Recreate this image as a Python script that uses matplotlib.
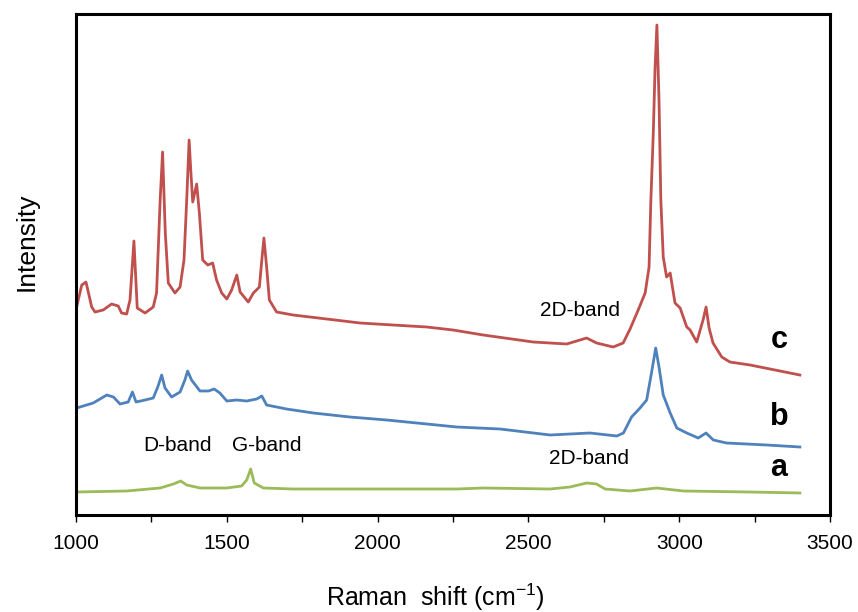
import matplotlib
matplotlib.use("Agg")
import matplotlib.pyplot as plt

plt.rcParams['font.family'] = ['Liberation Sans', 'DejaVu Sans']
plt.rcParams['mathtext.fontset'] = 'custom'
plt.rcParams['mathtext.rm'] = 'Liberation Sans'
plt.rcParams['mathtext.it'] = 'Liberation Sans'

# spectrum c (red) - raman shift / intensity (a.u.)
c_shift = [1002, 1019, 1033, 1052, 1063, 1090, 1118, 1140, 1151, 1168, 1179, 1192, 1203,
           1229, 1256, 1267, 1279, 1287, 1296, 1306, 1328, 1345, 1358, 1367, 1375, 1381,
           1387, 1400, 1409, 1420, 1437, 1453, 1466, 1483, 1500, 1516, 1533, 1544, 1571,
           1588, 1608, 1616, 1623, 1632, 1641, 1665, 1720, 1831, 1942, 2051, 2163, 2250,
           2350, 2516, 2627, 2693, 2726, 2781, 2814, 2837, 2864, 2887, 2900, 2906, 2914,
           2920, 2926, 2933, 2939, 2947, 2958, 2970, 2986, 3003, 3025, 3036, 3058, 3079,
           3089, 3099, 3112, 3141, 3168, 3235, 3301, 3400]
c_int = [208, 230, 233, 208, 203, 205, 211, 209, 202, 201, 215, 274, 207,
         202, 208, 222, 315, 363, 282, 232, 222, 228, 255, 315, 375, 342,
         313, 331, 302, 255, 250, 252, 235, 222, 216, 225, 240, 223, 213,
         222, 228, 255, 277, 248, 215, 203, 200, 196, 192, 190, 188, 185,
         180, 173, 171, 177, 172, 168, 172, 186, 205, 222, 248, 315, 382,
         448, 490, 415, 315, 258, 238, 242, 212, 207, 188, 185, 173, 195,
         208, 187, 172, 158, 153, 150, 146, 140]

# spectrum b (blue)
b_shift = [1002, 1057, 1102, 1124, 1146, 1173, 1187, 1199, 1229, 1256, 1271, 1284, 1295,
           1317, 1345, 1361, 1370, 1383, 1411, 1439, 1458, 1477, 1500, 1533, 1566, 1599,
           1616, 1632, 1698, 1787, 1908, 2030, 2163, 2262, 2406, 2572, 2704, 2793, 2815,
           2842, 2870, 2892, 2908, 2922, 2933, 2947, 2970, 2992, 3025, 3063, 3089, 3113,
           3157, 3290, 3400]
b_int = [107, 112, 120, 118, 111, 113, 123, 113, 115, 117, 128, 140, 127,
         118, 123, 135, 144, 135, 124, 124, 126, 122, 114, 115, 114, 116,
         119, 110, 106, 102, 98, 95, 91, 88, 86, 80, 82, 79, 82,
         98, 107, 115, 142, 167, 148, 120, 102, 87, 82, 77, 82, 75,
         72, 70, 68]

# spectrum a (green)
a_shift = [1002, 1168, 1279, 1323, 1347, 1367, 1411, 1500, 1549, 1566, 1579, 1591, 1621,
           1720, 1942, 2262, 2350, 2572, 2638, 2693, 2726, 2754, 2837, 2925, 3014, 3235, 3400]
a_int = [23, 24, 27, 31, 34, 30, 27, 27, 29, 35, 46, 32, 27,
         26, 26, 26, 27, 26, 28, 32, 31, 26, 24, 27, 24, 23, 22]

fig = plt.figure(figsize=(8.58, 6.12), dpi=100)
ax = fig.add_axes([0.0886, 0.1585, 0.8788, 0.8186])

ax.plot(a_shift, a_int, color='#9BBB59', lw=2)
ax.plot(b_shift, b_int, color='#4F81BD', lw=2)
ax.plot(c_shift, c_int, color='#C0504D', lw=2)

ax.set_xlim(1000, 3500)
ax.set_ylim(0, 501)
ax.set_yticks([])
ax.set_xticks(range(1000, 3501, 250))
ax.set_xticklabels([str(v) if v % 500 == 0 else '' for v in range(1000, 3501, 250)])
ax.tick_params(axis='x', direction='out', length=5, width=1, pad=9, labelsize=15)
for s in ax.spines.values():
    s.set_linewidth(2.2)

# band labels
ax.text(1335, 70, 'D-band', ha='center', va='center', fontsize=15)
ax.text(1634, 70, 'G-band', ha='center', va='center', fontsize=15)
ax.text(2701, 56, '2D-band', ha='center', va='center', fontsize=15)
ax.text(2671, 205, '2D-band', ha='center', va='center', fontsize=15)

# sample labels
ax.text(3331, 175, 'c', ha='center', va='center', fontsize=22, fontweight='bold')
ax.text(3331, 98, 'b', ha='center', va='center', fontsize=22, fontweight='bold')
ax.text(3331, 47, 'a', ha='center', va='center', fontsize=22, fontweight='bold')

ax.set_xlabel('Raman  shift (cm$^{-1}$)', fontsize=18)
ax.xaxis.set_label_coords(0.477, -0.132)
ax.set_ylabel('Intensity', fontsize=19)
ax.yaxis.set_label_coords(-0.05, 0.545)

plt.savefig('out.png', dpi=100)
